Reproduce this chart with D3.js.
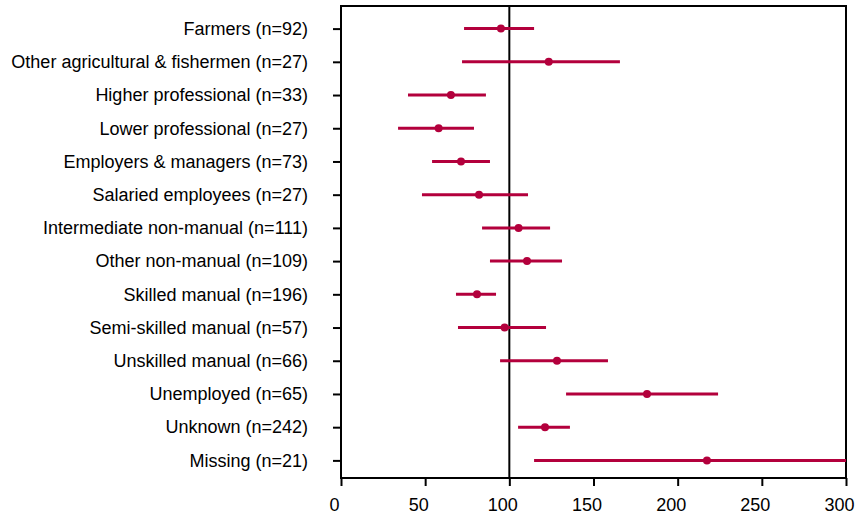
<!DOCTYPE html>
<html>
<head>
<meta charset="utf-8">
<script src="https://cdn.jsdelivr.net/npm/d3@7"></script>
<style>
  body { margin: 0; background: #fff; }
  text { font-family: "Liberation Sans", Arial, sans-serif; fill: #000; }
</style>
</head>
<body>
<div id="chart"></div>
<script>
// categories with group sizes
var categories = [
    "Farmers (n=92)",
    "Other agricultural & fishermen (n=27)",
    "Higher professional (n=33)",
    "Lower professional (n=27)",
    "Employers & managers (n=73)",
    "Salaried employees (n=27)",
    "Intermediate non-manual (n=111)",
    "Other non-manual (n=109)",
    "Skilled manual (n=196)",
    "Semi-skilled manual (n=57)",
    "Unskilled manual (n=66)",
    "Unemployed (n=65)",
    "Unknown (n=242)",
    "Missing (n=21)"
];
var estimates = [95, 123.4, 65.3, 58, 71.3, 82, 105.5, 110.5, 80.8, 97.2, 128.3, 181.8, 121.2, 217.4];
var lower     = [73.1, 71.9, 39.8, 33.9, 54.1, 48.1, 83.8, 88.5, 68.3, 69.5, 94.5, 133.7, 105.2, 114.7];
var upper     = [114.7, 165.7, 86.1, 79, 88.5, 111.1, 124.2, 131.3, 92.1, 121.8, 158.6, 224, 136, 300];
var xTicks = [0, 50, 100, 150, 200, 250, 300];
var refValue = 100;

var W = 857, H = 515;
var margin = { top: 6, right: 11, bottom: 37, left: 341 },
    width = W - margin.left - margin.right,
    height = H - margin.top - margin.bottom;
var red = "#b3003c";

var data = categories.map(function (c, i) {
    return { cat: c, est: estimates[i], lo: lower[i], hi: upper[i] };
});

var svg = d3.select("#chart").append("svg")
    .attr("width", W)
    .attr("height", H)
    .append("g")
    .attr("transform", "translate(" + margin.left + "," + margin.top + ")");

var x = d3.scaleLinear().domain([0, 300]).range([0, width]);
var y = d3.scalePoint().domain(categories).range([6, height - 1]).padding(0.5);

var xAxis = d3.axisBottom(x).tickValues(xTicks).tickSize(8).tickPadding(12);
var yAxis = d3.axisLeft(y).tickSize(8).tickPadding(25);

svg.append("g")
    .attr("class", "x axis")
    .attr("transform", "translate(0," + height + ")")
    .call(xAxis);

svg.append("g")
    .attr("class", "y axis")
    .call(yAxis);

svg.selectAll(".axis .domain").remove();
svg.selectAll(".axis line").attr("stroke", "#000").attr("stroke-width", 2);
svg.selectAll(".axis text").style("font-size", "18px").attr("fill", "#000");
svg.selectAll(".x.axis text").attr("dx", -7);

// frame
svg.append("rect")
    .attr("x", 0).attr("y", 0)
    .attr("width", width).attr("height", height)
    .attr("fill", "none")
    .attr("stroke", "#000")
    .attr("stroke-width", 2);

// reference line
svg.append("line")
    .attr("x1", x(refValue)).attr("x2", x(refValue))
    .attr("y1", 0).attr("y2", height)
    .attr("stroke", "#000")
    .attr("stroke-width", 2);

// intervals
svg.selectAll(".ci")
    .data(data)
    .enter().append("line")
    .attr("class", "ci")
    .attr("x1", function (d) { return x(d.lo); })
    .attr("x2", function (d) { return x(d.hi); })
    .attr("y1", function (d) { return y(d.cat); })
    .attr("y2", function (d) { return y(d.cat); })
    .attr("stroke", red)
    .attr("stroke-width", 3);

svg.selectAll(".pt")
    .data(data)
    .enter().append("circle")
    .attr("class", "pt")
    .attr("cx", function (d) { return x(d.est); })
    .attr("cy", function (d) { return y(d.cat); })
    .attr("r", 4)
    .attr("fill", red);
</script>
</body>
</html>
